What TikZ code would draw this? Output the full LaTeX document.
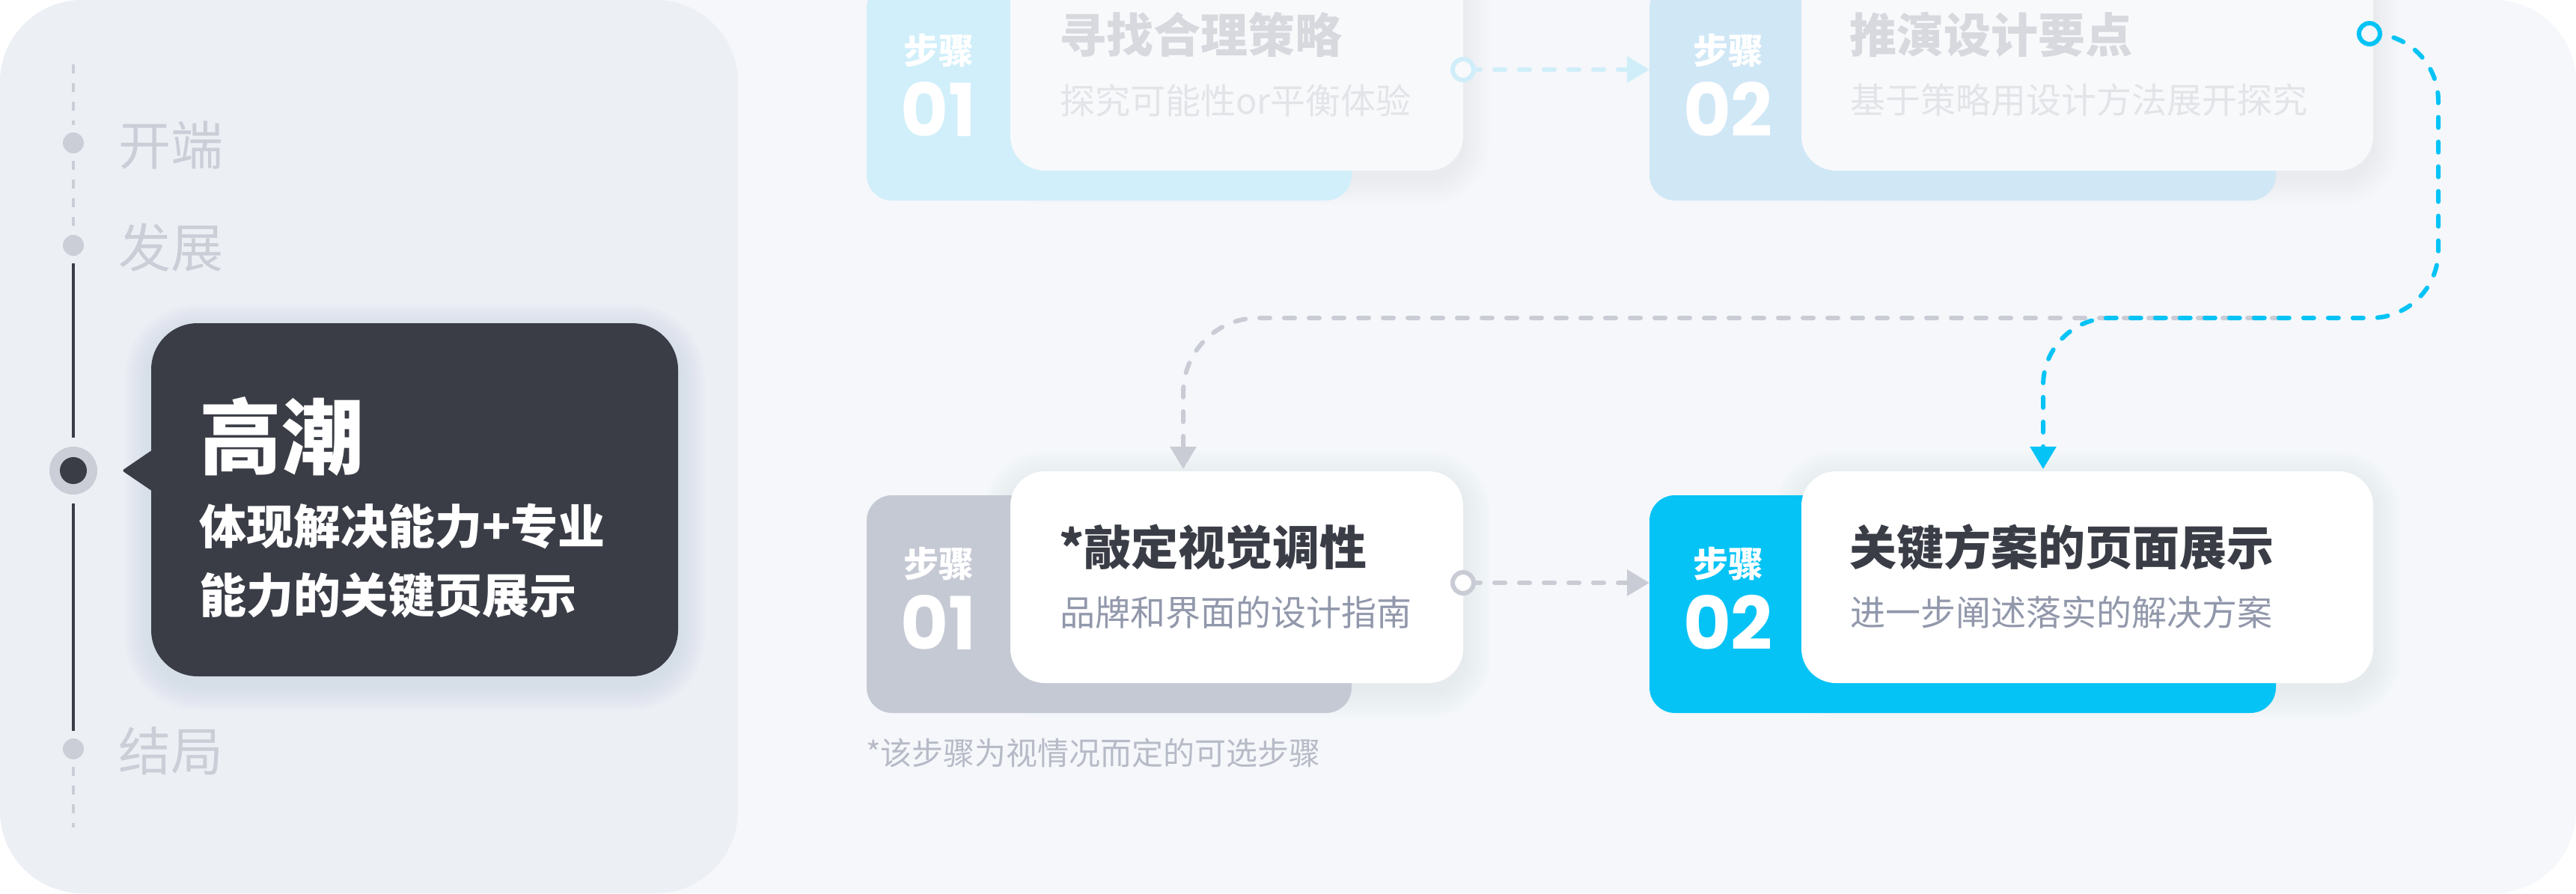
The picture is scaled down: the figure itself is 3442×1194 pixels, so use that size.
\documentclass[tikz,border=0pt]{standalone}
\usepackage{fontspec}
\setmainfont{Noto Sans CJK SC}
\newfontfamily\popfont{Poppins}
\usetikzlibrary{calc,arrows.meta}
\definecolor{pagebg}{HTML}{F5F7FA}
\definecolor{leftbg}{HTML}{ECEFF4}
\definecolor{darkc}{HTML}{3A3D46}
\definecolor{lgrey}{HTML}{CBCED7}
\definecolor{cyanc}{HTML}{06C3F6}
\definecolor{greyback}{HTML}{C5C9D4}
\definecolor{subc}{HTML}{9298AB}
\definecolor{noteC}{HTML}{B7BBC7}
\definecolor{connGrey}{HTML}{C9CBD5}
\definecolor{fadeBlueA}{HTML}{D0EFFA}
\definecolor{fadeBlueB}{HTML}{D0E7F6}
\definecolor{fadeConn}{HTML}{D0EEF9}
\definecolor{fadeWhite}{HTML}{F8F9FB}
\definecolor{fadeTitle}{HTML}{D8D9DE}
\definecolor{fadeSub}{HTML}{E3E4E8}
\definecolor{shadowc}{HTML}{9AA6C4}
\newcommand\fsz[1]{\fontsize{#1}{#1}\selectfont}
\newcommand\dropsh[6]{%
  \foreach \i in {1,...,12}{%
    \pgfmathsetmacro\rr{#5+\i*3}%
    \fill[shadowc, opacity=#6, rounded corners=\rr pt] ({#1-\i*3},{#2-\i*3+10}) rectangle ({#3+\i*3},{#4+\i*3+10});
  }}
\begin{document}
\begin{tikzpicture}[x=1pt,y=-1pt,
  lbl/.style={inner sep=0pt, outer sep=0pt, anchor=west},
  ctr/.style={inner sep=0pt, outer sep=0pt, anchor=center},
  backbox/.style={rounded corners=34pt, inner sep=0pt, outer sep=0pt, anchor=north west, draw=none, minimum height=291pt},
  frontbox/.style={rounded corners=46pt, inner sep=0pt, outer sep=0pt, anchor=north west, draw=none, minimum height=283pt},
  tdot/.style={circle, fill=lgrey, minimum size=28pt, inner sep=0pt, outer sep=10pt},
  tldash/.style={draw=lgrey, line width=4pt, dash pattern=on 12pt off 13pt},
  tlsolid/.style={draw=darkc, line width=4.5pt},
  conn/.style={line width=6pt, line cap=round, dash pattern=on 14pt off 19pt},
  ringst/.style={circle, line width=6pt, minimum size=28pt, inner sep=0pt, outer sep=0pt},
  tip/.style={-{Triangle[length=30pt,width=34pt]}},
  steplbl/.style={ctr, text=white, font=\fsz{47}\bfseries},
  stepnum/.style={ctr, text=white, font=\popfont\fsz{98}\bfseries},
  title/.style={lbl, font=\fsz{63}\bfseries},
  subt/.style={lbl, font=\fsz{47}}
]
\useasboundingbox (0,0) rectangle (3442,1194);
\clip (0,0) rectangle (3442,1194);
\fill[white] (0,0) rectangle (3442,1194);
\fill[pagebg, rounded corners=110pt] (0,0) rectangle (3442,1194);
\fill[leftbg, rounded corners=110pt] (0,0) rectangle (986,1194);

% ---------- timeline ----------
\coordinate (tltop) at (98,86);
\coordinate (tlbot) at (98,1106);
\node[tdot] (d1) at (98,191) {};
\node[tdot] (d2) at (98,328) {};
\node[tdot] (d3) at (98,1001) {};
\node[circle, fill=lgrey, minimum size=64pt, inner sep=0pt, outer sep=12pt] (rg) at (98,629) {};
\fill[darkc] (rg.center) circle (18pt);
\draw[tldash] (tltop) -- (d1);
\draw[tldash] (d1) -- (d2);
\draw[tlsolid] (d2) -- (rg);
\draw[tlsolid] (rg) -- (d3);
\draw[tldash] (d3) -- (tlbot);
\node[lbl, text=lgrey, font=\fsz{70}] (t1) at (158,194) {开端};
\node[lbl, text=lgrey, font=\fsz{70}] (t2) at (158,331) {发展};
\node[lbl, text=lgrey, font=\fsz{70}] (t4) at (158,1004) {结局};

% ---------- callout ----------
\dropsh{202}{432}{906}{904}{62}{0.014}
\node[fill=darkc, rounded corners=62pt, minimum width=704pt, minimum height=472pt, inner sep=0pt, outer sep=0pt, anchor=north west] (co) at (202,432) {};
\coordinate (ptip) at (163,629);
\fill[darkc, rounded corners=3pt] (ptip) -- (210,597) -- (210,661) -- cycle;
\node[lbl, text=white, font=\fsz{110}\bfseries] (ct) at (266,583) {高潮};
\node[lbl, text=white, font=\fsz{63}\bfseries] (cl1) at (266,704) {体现解决能力+专业};
\node[lbl, text=white, font=\fsz{63}\bfseries] (cl2) at (266,796) {能力的关键页展示};

% ---------- top row (faded) ----------
\dropsh{1350}{-55}{1955}{228}{46}{0.005}
\node[backbox, fill=fadeBlueA, minimum width=648pt] (b1t) at (1158,-23) {};
\node[frontbox, fill=fadeWhite, minimum width=605pt] (w1t) at (1350,-55) {};
\node[steplbl] (s1t) at (1254,68) {步骤};
\node[stepnum] (n1t) at (1254,146) {01};
\node[title, text=fadeTitle] (h1t) at (1415,46) {寻找合理策略};
\node[subt, text=fadeSub] (p1t) at (1416,134) {探究可能性or平衡体验};

\dropsh{2407}{-55}{3171}{228}{46}{0.005}
\node[backbox, fill=fadeBlueB, minimum width=837pt] (b2t) at (2204,-23) {};
\node[frontbox, fill=fadeWhite, minimum width=764pt] (w2t) at (2407,-55) {};
\node[steplbl] (s2t) at (2309,68) {步骤};
\node[stepnum] (n2t) at (2309,146) {02};
\node[title, text=fadeTitle] (h2t) at (2471,46) {推演设计要点};
\node[subt, text=fadeSub] (p2t) at (2472,134) {基于策略用设计方法展开探究};

% ---------- bottom row ----------
\dropsh{1350}{630}{1955}{913}{46}{0.012}
\node[backbox, fill=greyback, minimum width=648pt] (b1b) at (1158,662) {};
\node[frontbox, fill=white, minimum width=605pt] (w1b) at (1350,630) {};
\node[steplbl] (s1b) at (1254,754) {步骤};
\node[stepnum] (n1b) at (1254,832) {01};
\node[title, text=darkc] (h1b) at (1415,731) {*敲定视觉调性};
\node[subt, text=subc] (p1b) at (1416,819) {品牌和界面的设计指南};

\dropsh{2407}{630}{3171}{913}{46}{0.012}
\node[backbox, fill=cyanc, minimum width=837pt] (b2b) at (2204,662) {};
\node[frontbox, fill=white, minimum width=764pt] (w2b) at (2407,630) {};
\node[steplbl] (s2b) at (2309,754) {步骤};
\node[stepnum] (n2b) at (2309,832) {02};
\node[title, text=darkc] (h2b) at (2471,731) {关键方案的页面展示};
\node[subt, text=subc] (p2b) at (2472,819) {进一步阐述落实的解决方案};

\node[lbl, text=noteC, font=\fsz{42}] (note) at (1157,1006) {*该步骤为视情况而定的可选步骤};

% ---------- connectors ----------
\coordinate (gst) at (3050,425);
\coordinate (in1) at (1581,627);
\coordinate (in2) at (2730,627);
\node[ringst] (r1t) at (1955,93) {};
\node[ringst] (r1b) at (1955,779) {};
\node[ringst] (r2t) at (3166,45) {};
\draw[conn, draw=fadeConn, fill=none, dash phase=24pt, tip, color=fadeConn] (r1t.center) -- (r1t -| b2t.west);
\draw[conn, dash phase=24pt, tip, color=connGrey] (r1b.center) -- (r1b -| b2b.west);
\draw[conn, tip, color=connGrey, rounded corners=100pt] (gst) -- (1581,425) -- (in1);
\draw[conn, tip, color=cyanc, rounded corners=90pt] (r2t.center) -- (3258,45) -- (3258,425) -- (2730,425) -- (in2);
\draw[line width=6pt, draw=fadeConn, fill=fadeWhite] (r1t.center) circle (14pt);
\draw[line width=6pt, draw=connGrey, fill=white] (r1b.center) circle (14pt);
\draw[line width=6pt, draw=cyanc, fill=pagebg] (r2t.center) circle (14pt);
\end{tikzpicture}
\end{document}
